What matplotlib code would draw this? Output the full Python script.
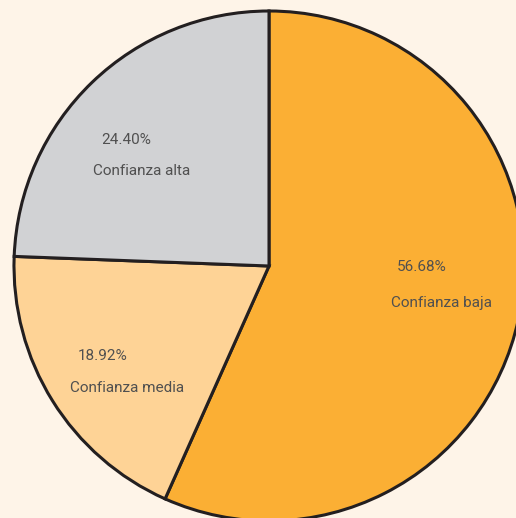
import matplotlib.pyplot as plt

labels = ["Confianza baja", "Confianza media", "Confianza alta"]
shares = [56.68, 18.92, 24.40]

colors = ["#FBAF34", "#FED396", "#D1D2D4"]
bg = "#FEF4E8"

# where the two text lines start (pixels from top-left)
label_xy = [(391, 303), (70, 388), (93, 171)]
pct_xy = [(397, 267), (78, 356), (101, 140)]

fig = plt.figure(figsize=(5.16, 5.18), dpi=100, facecolor=bg)
ax = fig.add_axes([0, 0, 1, 1])
ax.set_facecolor(bg)

ax.pie(shares, colors=colors, startangle=90, counterclock=False,
       center=(269, 518 - 266), radius=255,
       wedgeprops={"edgecolor": "#231F20", "linewidth": 2.2})

for i in range(len(labels)):
    lx, ly = label_xy[i]
    px, py = pct_xy[i]
    ax.text(lx, 518 - ly, labels[i], ha="left", va="center",
            fontsize=11, color="#505050", family="Roboto")
    ax.text(px, 518 - py, f"{shares[i]:.2f}%", ha="left", va="center",
            fontsize=11, color="#505050", family="Roboto")

ax.set_xlim(0, 516)
ax.set_ylim(0, 518)
ax.set_aspect("equal")
ax.axis("off")

fig.savefig("out.png", dpi=100, facecolor=bg)
